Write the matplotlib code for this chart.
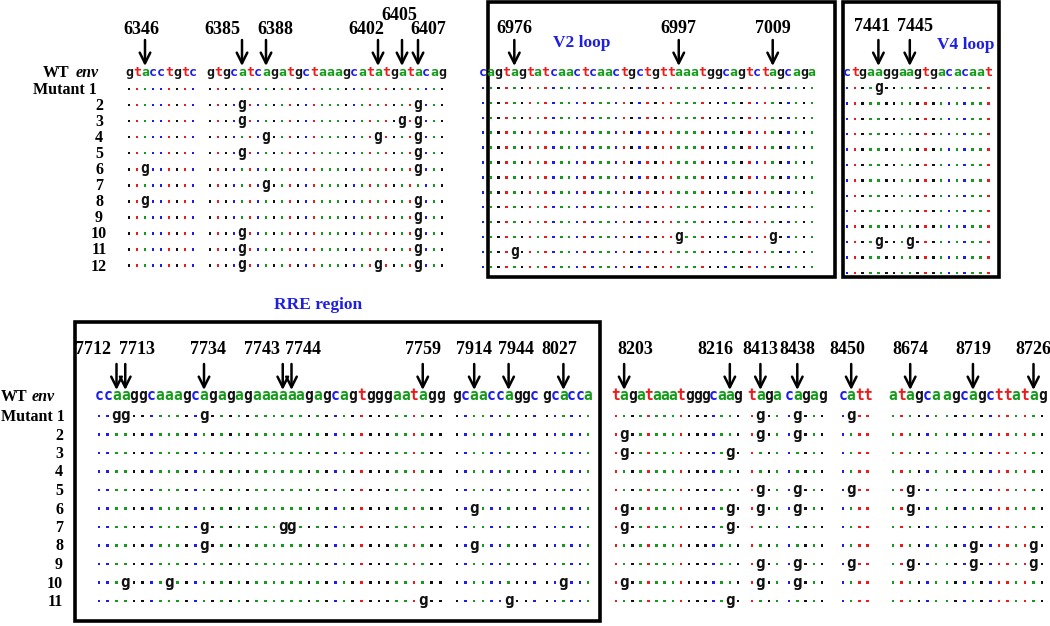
import matplotlib
matplotlib.use('Agg')
from matplotlib import pyplot as plt
from matplotlib.patches import Rectangle

# wild-type env fragments (lower case, as printed in the alignment)
wt_top = ['gtacctgtc',
          'gtgcatcagatgctaaagcatatgatacag',
          'cagtagtatcaactcaactgctgttaaatggcagtctagcaga',
          'ctgaaggaagtgacacaat']
wt_bottom = ['ccaaggcaaagcagagagaaaaaagagcagtgggaatagg',
             'gcaaccaggc',
             'gcacca',
             'tagataaatgggcaag',
             'taga',
             'cagag',
             'catt',
             'atagca',
             'agcagcttatag']

# mutations: mutant row -> positions (index in fragment) that read 'g'
mut_top = [{6: [2], 8: [2]},
           {2: [4, 26], 3: [4, 24, 26], 4: [7, 21, 26], 5: [4, 26], 6: [26],
            7: [7], 8: [26], 9: [26], 10: [4, 26], 11: [4, 26], 12: [4, 21, 26]},
           {11: [25, 37], 12: [4]},
           {1: [4], 11: [4, 8]}]
mut_bottom = [{1: [2, 3, 12], 7: [12, 21, 22], 8: [12], 10: [3, 8], 11: [37]},
              {6: [2], 8: [2], 11: [6]},
              {10: [2]},
              {2: [1], 3: [1, 14], 6: [1, 14], 7: [1, 14], 10: [1], 11: [14]},
              {1: [1], 2: [1], 5: [1], 6: [1], 9: [1], 10: [1]},
              {1: [1], 2: [1], 5: [1], 6: [1], 9: [1], 10: [1]},
              {1: [1], 5: [1], 9: [1]},
              {5: [2], 6: [2], 9: [2]},
              {8: [3, 10], 9: [3, 10]}]

# nucleotide positions marked with arrows: (label, index in fragment)
arrows_top = [[('6346', 2)],
              [('6385', 4), ('6388', 7), ('6402', 21), ('6405', 24), ('6407', 26)],
              [('6976', 4), ('6997', 25), ('7009', 37)],
              [('7441', 4), ('7445', 8)]]
arrows_bottom = [[('7712', 2), ('7713', 3), ('7734', 12), ('7743', 21), ('7744', 22), ('7759', 37)],
                 [('7914', 2), ('7944', 6)],
                 [('8027', 2)],
                 [('8203', 1), ('8216', 14)],
                 [('8413', 1)],
                 [('8438', 1)],
                 [('8450', 1)],
                 [('8674', 2)],
                 [('8719', 3), ('8726', 10)]]

rows_top = ['Mutant 1'] + [str(i) for i in range(2, 13)]
rows_bottom = ['Mutant 1'] + [str(i) for i in range(2, 12)]

# ---- layout (pixel units of the 1050x626 canvas) ----
# per fragment: x of first base, step between bases, y of first mutant row, row step, rows
lay_top = [(129, 8.0, 89, 16.05, 12), (210, 8.0, 89, 16.05, 12),
           (483, 7.83, 88, 14.9, 13), (847, 7.85, 88, 15.4, 13)]
lay_bottom = [(99, 8.75), (457, 8.6), (547, 8.2), (616, 8.13), (752, 8.4),
              (789, 8.3), (843, 8.2), (893, 8.6), (947, 8.65)]
label_dx = {'6346': -4, '6385': -20, '6388': 9, '6402': -12, '6405': -3, '6407': 10,
            '7441': -6, '7445': 5, '7712': -24, '7713': 12, '7734': 4, '7743': -21,
            '7744': 12, '7944': 7, '8027': -4, '8203': 11, '8216': -14, '8450': -4}

colors = {'a': '#159a1b', 'c': '#1c1cee', 'g': '#111111', 't': '#ee1a1a'}
blue = '#1f1fe0'
serif = 'Liberation Serif'
mono = 'DejaVu Sans Mono'

fig = plt.figure(figsize=(10.5, 6.26), dpi=100)
ax = fig.add_axes([0, 0, 1, 1])
ax.set_xlim(0, 1050)
ax.set_ylim(626, 0)
ax.axis('off')


def draw_fragment(seq, muts, x0, step, y_wt, y0, dy, nrows, fs):
    xs = [x0 + i * step for i in range(len(seq))]
    half_x = fs * 100 / 72 * 0.55 / 2
    for x, b in zip(xs, seq):
        ax.text(x, y_wt + half_x, b, color=colors[b], fontsize=fs, fontweight='bold',
                family=mono, ha='center', va='baseline')
    for r in range(nrows):
        y = y0 + r * dy
        hit = muts.get(r + 1, [])
        px = [x for i, x in enumerate(xs) if i not in hit]
        pc = [colors[b] for i, b in enumerate(seq) if i not in hit]
        ax.scatter(px, [y] * len(px), s=3.5, c=pc, marker='s', linewidths=0)
        for i in hit:
            ax.text(xs[i], y + half_x, 'g', color='#111111', fontsize=fs + 1,
                    fontweight='bold', family=mono, ha='center', va='baseline')
    return xs


def draw_arrows(xs, marks, y_top, y_tip, y_lab):
    for lab, i in marks:
        x = xs[i]
        ax.annotate('', xy=(x, y_tip), xytext=(x, y_top),
                    arrowprops=dict(arrowstyle='->', color='black', lw=1.8,
                                    mutation_scale=19, shrinkA=0, shrinkB=0))
        yl = y_lab - 14 if lab == '6405' else y_lab
        ax.text(x + label_dx.get(lab, 0), yl, lab, fontsize=13, fontweight='bold',
                family=serif, ha='center', va='baseline')


# ---- top panel ----
for k, seq in enumerate(wt_top):
    x0, step, y0, dy, n = lay_top[k]
    xs = draw_fragment(seq, mut_top[k], x0, step, 72, y0, dy, n, 9.5)
    y_lab = 34 if k < 2 else (33 if k == 2 else 31)
    draw_arrows(xs, arrows_top[k], 40, 66, y_lab)

ax.text(43, 77, 'WT', fontsize=11.5, fontweight='bold', family=serif)
ax.text(76, 77, 'env', fontsize=11.5, fontweight='bold', style='italic', family=serif)
for r, lab in enumerate(rows_top):
    y = 89 + r * 16.05 + 5
    if r == 0:
        ax.text(97, y, lab, fontsize=11.5, fontweight='bold', family=serif, ha='right')
    else:
        ax.text(99, y, lab, fontsize=11.5, fontweight='bold', family=serif, ha='center')

ax.add_patch(Rectangle((488, 2), 347, 275, fill=False, lw=2.6, edgecolor='black'))
ax.add_patch(Rectangle((843, 2), 156, 275, fill=False, lw=2.6, edgecolor='black'))
ax.text(553, 47, 'V2 loop', color=blue, fontsize=12.5, fontweight='bold', family=serif)
ax.text(937, 49, 'V4 loop', color=blue, fontsize=12.5, fontweight='bold', family=serif)

# ---- bottom panel ----
for k, seq in enumerate(wt_bottom):
    x0, step = lay_bottom[k]
    xs = draw_fragment(seq, mut_bottom[k], x0, step, 396, 416, 18.5, 11, 10.5)
    draw_arrows(xs, arrows_bottom[k], 364, 390, 354)

ax.text(1, 401, 'WT', fontsize=11.5, fontweight='bold', family=serif)
ax.text(32, 401, 'env', fontsize=11.5, fontweight='bold', style='italic', family=serif)
for r, lab in enumerate(rows_bottom):
    y = 416 + r * 18.5 + 5
    if r == 0:
        ax.text(1, y, lab, fontsize=11.5, fontweight='bold', family=serif, ha='left')
    else:
        ax.text(63, y, lab, fontsize=11.5, fontweight='bold', family=serif, ha='right')

ax.add_patch(Rectangle((75, 322), 525, 299, fill=False, lw=2.6, edgecolor='black'))
ax.text(318, 309, 'RRE region', color=blue, fontsize=12.5, fontweight='bold',
        family=serif, ha='center')

fig.savefig('out.png', dpi=100)
